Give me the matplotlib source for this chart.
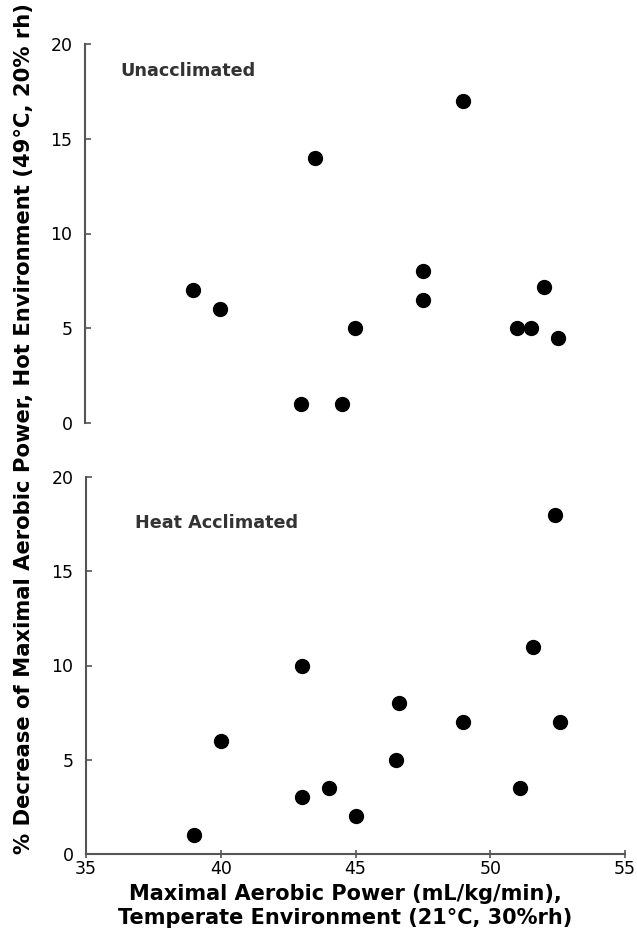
import matplotlib
matplotlib.use("Agg")
import matplotlib.pyplot as plt

plt.rcParams['font.family'] = ['DejaVu Sans']

# Unacclimated
x_un = [39.0, 40.0, 43.5, 43.0, 49.0, 47.5, 47.5, 45.0, 51.0, 51.5, 52.0, 52.5, 44.5]
y_un = [7.0, 6.0, 14.0, 1.0, 17.0, 8.0, 6.5, 5.0, 5.0, 5.0, 7.2, 4.5, 1.0]
# Heat acclimated
x_ha = [39.0, 40.0, 43.0, 43.0, 52.4, 51.6, 46.6, 49.0, 52.6, 46.5, 44.0, 51.1, 45.0]
y_ha = [1.0, 6.0, 10.0, 3.0, 18.0, 11.0, 8.0, 7.0, 7.0, 5.0, 3.5, 3.5, 2.0]

x_ticks = [35, 40, 45, 50, 55]
y_ticks = [0, 5, 10, 15, 20]
panel_labels = ["Unacclimated", "Heat Acclimated"]

W, H = 637, 936
fig = plt.figure(figsize=(W / 100, H / 100), dpi=100)

def add_ax(left, top, right, bottom):
    return fig.add_axes([left / W, 1 - bottom / H, (right - left) / W, (bottom - top) / H])

ax1 = add_ax(85, 44, 625, 423)
ax2 = add_ax(86, 477, 625, 854)

spine_col = '#555555'
for ax, xs, ys, lab, lpos in [(ax1, x_un, y_un, panel_labels[0], (120, 71)),
                              (ax2, x_ha, y_ha, panel_labels[1], (135, 523))]:
    ax.plot(xs, ys, 'o', color='black', markersize=10, linestyle='none')
    ax.set_xlim(35, 55)
    ax.set_ylim(0, 20)
    ax.set_yticks(y_ticks)
    ax.set_yticklabels([str(t) for t in y_ticks], fontsize=12.5)
    for s in ['top', 'right']:
        ax.spines[s].set_visible(False)
    ax.spines['left'].set_color(spine_col)
    ax.spines['left'].set_linewidth(1.5)
    ax.tick_params(axis='y', direction='in', length=4, width=1.2, color=spine_col, pad=9)
    ax.patch.set_alpha(0)
    fig.text(lpos[0] / W, 1 - lpos[1] / H, lab, fontsize=12.7, fontweight='bold',
             color='#333333', ha='left', va='center')

ax1.spines['bottom'].set_visible(False)
ax1.set_xticks([])

ax2.spines['bottom'].set_color(spine_col)
ax2.spines['bottom'].set_linewidth(1.5)
ax2.set_xticks(x_ticks)
ax2.set_xticklabels([str(t) for t in x_ticks], fontsize=12.5)
ax2.tick_params(axis='x', direction='inout', length=6, width=1.2, color=spine_col, pad=1)

fig.text(345 / W, 1 - 900 / H, "Maximal Aerobic Power (mL/kg/min),", fontsize=15,
         fontweight='bold', ha='center', va='baseline')
fig.text(345 / W, 1 - 924 / H, "Temperate Environment (21°C, 30%rh)", fontsize=15,
         fontweight='bold', ha='center', va='baseline')
fig.text(24 / W, 1 - 429 / H, "% Decrease of Maximal Aerobic Power, Hot Environment (49°C, 20% rh)",
         fontsize=15.2, fontweight='bold', rotation=90, ha='center', va='center')

fig.savefig("out.png", dpi=100)
